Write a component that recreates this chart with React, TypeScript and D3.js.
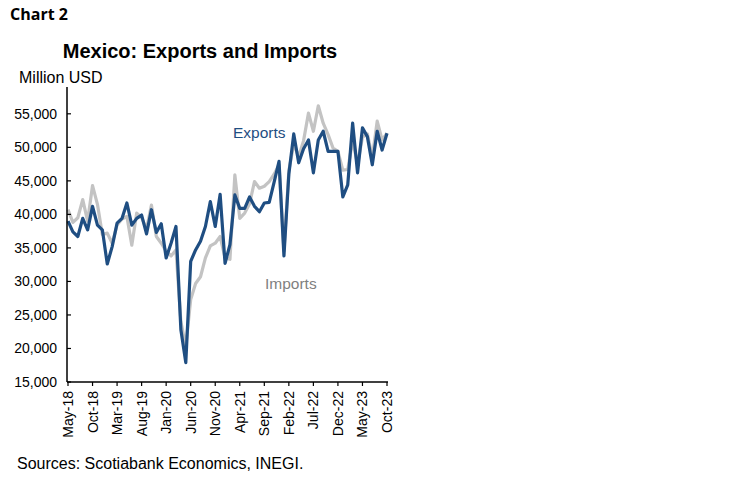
import React from "react";
import * as d3 from "d3";

const startYear = 2018;
const startMonth = 4; // May (0-based)
const exportsData = [
  39000, 37400, 36700, 39400, 37700, 41200, 38400, 37700, 32600, 35200,
  38700, 39400, 41700, 38400, 39400, 39900, 37100, 40700, 37300, 38600,
  33500, 35700, 38200, 22800, 17900, 33000, 34700, 36000, 38200, 41900,
  38200, 43000, 32700, 35500, 42900, 40900, 40900, 42600, 41200, 40400,
  41700, 41800, 44800, 47900, 33800, 46000, 52000, 47700, 49800, 51100,
  46200, 51100, 52400, 49400, 49400, 49400, 42600, 44400, 53600, 46200,
  52900, 51600, 47400, 52400, 49600, 52100,
];
const importsData = [
  40700, 38800, 39500, 42200, 39000, 44300, 41500, 37000, 37200, 35700,
  38400, 39300, 39700, 35400, 40200, 39500, 37800, 41400, 36700, 35700,
  34500, 33800, 34700, 24000, 20300, 27300, 29700, 30700, 33500, 35300,
  35700, 36700, 33500, 33300, 45900, 39400, 40200, 41600, 44900, 43900,
  44200, 44900, 46000, 47400, 34500, 46500, 50500, 48600, 51000, 55100,
  52400, 56200, 53600, 51900, 49900, 49400, 46600, 46700, 51000, 47500,
  51500, 52000, 48500, 53900, 51100, 52100,
];
const yTicks = [15000, 20000, 25000, 30000, 35000, 40000, 45000, 50000, 55000];
const monthNames = ["Jan", "Feb", "Mar", "Apr", "May", "Jun", "Jul", "Aug", "Sep", "Oct", "Nov", "Dec"];
const tickEvery = 5;

const labelFor = (i: number) => {
  const m = startMonth + i;
  const y = startYear + Math.floor(m / 12);
  return `${monthNames[m % 12]}-${String(y).slice(2)}`;
};

export default function App() {
  const W = 750, H = 482;
  const x = d3.scaleLinear().domain([0, exportsData.length - 1]).range([68, 387]);
  const y = d3.scaleLinear().domain([15000, 59000]).range([382, 87]);
  const line = d3.line<number>().x((_, i) => x(i)).y((d) => y(d));
  const xTickIdx = d3.range(0, exportsData.length, tickEvery);
  const fmt = d3.format(",");
  const font = "'Liberation Sans', Arial, sans-serif";
  const navy = "#1f4e82";
  return (
    <svg width={W} height={H} style={{ position: "absolute", left: 0, top: 0, background: "#fff" }} fontFamily={font}>
      <text x={10} y={20} fontSize={16} fontWeight="bold" fontFamily="'Open Sans', 'Noto Sans', sans-serif" fill="#000">Chart 2</text>
      <text x={200} y={58} fontSize={20} fontWeight="bold" textAnchor="middle" fill="#000">Mexico: Exports and Imports</text>
      <text x={19} y={83} fontSize={16} fill="#000">Million USD</text>
      <path d={line(importsData) || ""} fill="none" stroke="#c3c3c3" strokeWidth={3.2} strokeLinejoin="round" />
      <path d={line(exportsData) || ""} fill="none" stroke={navy} strokeWidth={3.2} strokeLinejoin="round" />
      <line x1={67} x2={67} y1={87} y2={382} stroke="#000" strokeWidth={1.5} />
      <line x1={67} x2={388} y1={382} y2={382} stroke="#000" strokeWidth={1.5} />
      {yTicks.map((t) => (
        <g key={t}>
          <line x1={67} x2={71} y1={y(t)} y2={y(t)} stroke="#000" strokeWidth={1.2} />
          <text x={57} y={y(t) + 5} fontSize={14} textAnchor="end" fill="#000">{fmt(t)}</text>
        </g>
      ))}
      {xTickIdx.map((i) => (
        <g key={i}>
          <line x1={x(i)} x2={x(i)} y1={382} y2={386} stroke="#000" strokeWidth={1.2} />
          <text transform={`translate(${x(i) + 5},${391}) rotate(-90)`} fontSize={14} textAnchor="end" fill="#000">{labelFor(i)}</text>
        </g>
      ))}
      <text x={233} y={138} fontSize={15.5} fill={navy}>Exports</text>
      <text x={265} y={289} fontSize={15.5} fill="#808080">Imports</text>
      <text x={17} y={469} fontSize={16} fill="#000">Sources: Scotiabank Economics, INEGI.</text>
    </svg>
  );
}
